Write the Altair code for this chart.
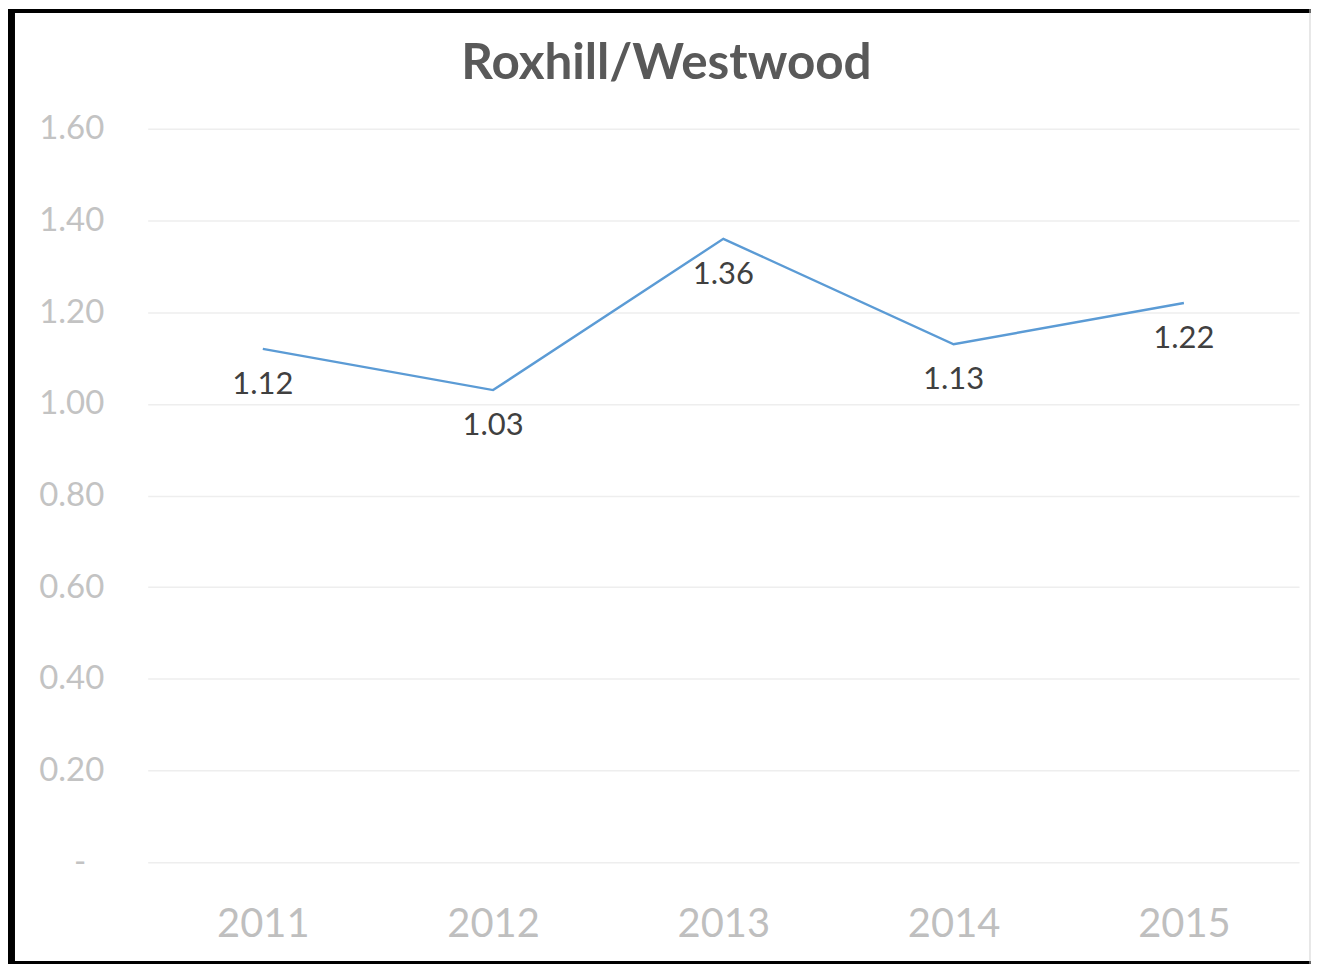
import altair as alt
import pandas as pd

years = ["2011", "2012", "2013", "2014", "2015"]
values = [1.12, 1.03, 1.36, 1.13, 1.22]
labels = ["1.12", "1.03", "1.36", "1.13", "1.22"]
y_ticks = [0, 0.2, 0.4, 0.6, 0.8, 1.0, 1.2, 1.4, 1.6]
title_text = "Roxhill/Westwood"

df = pd.DataFrame({"year": years, "value": values, "label": labels})

W, H = 1154, 735
PL, PT, PR, PB = 140, 120, 12, 102

x_enc = alt.X("year:N", sort=years,
              scale=alt.Scale(paddingInner=0, paddingOuter=0),
              axis=alt.Axis(title=None, labelAngle=0, labelFontSize=40,
                            labelColor="#bfbfbf", labelFont="Lato",
                            labelPadding=43, ticks=False, domain=False,
                            grid=False))
y_enc = alt.Y("value:Q", scale=alt.Scale(domain=[0, 1.6], nice=False),
              axis=alt.Axis(title=None, values=y_ticks, labelFontSize=33,
                            labelColor="#c3c3c3", labelFont="Lato",
                            labelPadding={"condition": {"test": "datum.value == 0", "value": 62}, "value": 44},
                            ticks=False, domain=False,
                            gridColor="#eeeeee", gridWidth=1.5,
                            labelExpr="datum.value == 0 ? '-' : format(datum.value, '.2f')"))

base = alt.Chart(df)

line = base.mark_line(color="#5b9bd5", strokeWidth=2.4).encode(x=x_enc, y=y_enc)
text = base.mark_text(dy=36, fontSize=31, font="Lato", color="#404040").encode(
    x=alt.X("year:N", sort=years), y="value:Q", text="label:N")

one = pd.DataFrame({"t": [title_text]})
title = alt.Chart(one).mark_text(fontSize=49.5, font="Lato", fontWeight="bold",
                                 color="#595959", baseline="alphabetic").encode(
    x=alt.value(668 - 148), y=alt.value(78 - 128), text="t:N")

left_bar = alt.Chart(one).mark_rect(color="black").encode(
    x=alt.value(-PL), x2=alt.value(-PL + 7), y=alt.value(-PT), y2=alt.value(H + PB))
top_bar = alt.Chart(one).mark_rect(color="black").encode(
    x=alt.value(-PL), x2=alt.value(W + PR), y=alt.value(-PT), y2=alt.value(-PT + 4))
bottom_bar = alt.Chart(one).mark_rect(color="black").encode(
    x=alt.value(-PL), x2=alt.value(W + PR), y=alt.value(H + PB - 3), y2=alt.value(H + PB))
right_line = alt.Chart(one).mark_rule(color="#d0d0d0", strokeWidth=1).encode(
    x=alt.value(W + 11), y=alt.value(-PT), y2=alt.value(H + PB))

chart = alt.layer(line, text, title, left_bar, top_bar, bottom_bar, right_line).properties(
    width=W, height=H,
).configure(
    autosize=alt.AutoSizeParams(type="none"),
    padding={"left": PL, "top": PT, "right": PR, "bottom": PB},
).configure_view(stroke=None)

chart.save("out.html", embed_options={"renderer": "svg", "actions": False})
